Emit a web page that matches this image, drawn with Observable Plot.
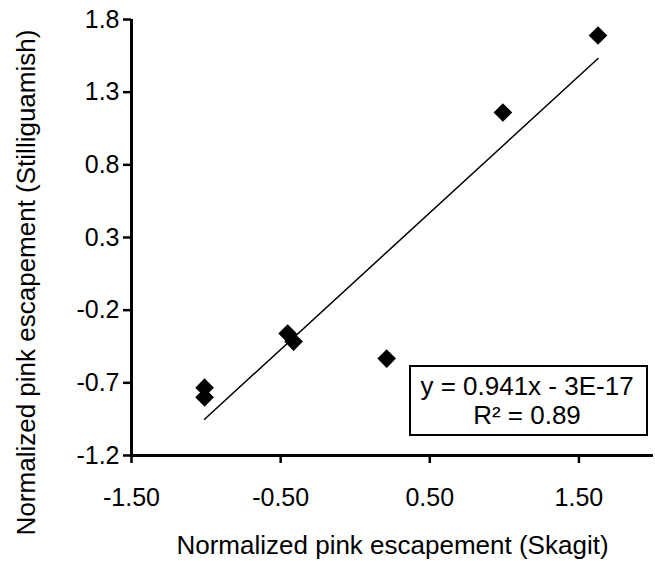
<!DOCTYPE html>
<html><head><meta charset="utf-8">
<script src="https://cdn.jsdelivr.net/npm/d3@7"></script>
<script src="https://cdn.jsdelivr.net/npm/@observablehq/plot@0.6"></script>
<style>body{margin:0;background:#fff} svg{font-family:"Liberation Sans",Arial,sans-serif}</style>
</head><body><div id="chart"></div>
<script>
const skagit = [1.628, 0.990, -1.01, -1.01, -0.453, -0.413, 0.211];
const stilliguamish = [1.69, 1.16, -0.733, -0.80, -0.361, -0.416, -0.533];
const xTicks = [-1.5, -0.5, 0.5, 1.5];
const yTicks = [-1.2, -0.7, -0.2, 0.3, 0.8, 1.3, 1.8];
const trendSlope = 0.941, trendIntercept = -3e-17;
const equationLines = ["y = 0.941x - 3E-17", "R² = 0.89"];
const xTitle = "Normalized pink escapement (Skagit)";
const yTitle = "Normalized pink escapement (Stilliguamish)";

const points = skagit.map((x, i) => ({x, y: stilliguamish[i]}));
const [xmin, xmax] = d3.extent(skagit);
const trend = [xmin, xmax].map(x => ({x, y: trendSlope * x + trendIntercept}));

const plot = Plot.plot({
  width: 655, height: 561,
  marginLeft: 131, marginRight: 2, marginTop: 19, marginBottom: 106,
  style: {fontFamily: '"Liberation Sans", Arial, sans-serif', fontSize: "25px", color: "black", background: "white"},
  x: {domain: [-1.5, 2.0]},
  y: {domain: [-1.2, 1.8]},
  marks: [
    Plot.axisX({ticks: xTicks, tickFormat: d => d.toFixed(2), tickSize: 8, tickPadding: 25, strokeWidth: 2.5, fontSize: 25, label: null, fill: "black"}),
    Plot.axisY({ticks: yTicks, tickFormat: d => d.toFixed(1), tickSize: 8, tickPadding: 4, strokeWidth: 2.5, fontSize: 25, label: null, fill: "black"}),
    Plot.ruleX([-1.5], {stroke: "black", strokeWidth: 3}),
    Plot.ruleY([-1.2], {stroke: "black", strokeWidth: 3}),
    Plot.line(trend, {x: "x", y: "y", stroke: "black", strokeWidth: 1.5}),
    Plot.dot(points, {x: "x", y: "y", symbol: "diamond2", r: 8.4, fill: "black", stroke: "none"}),
    Plot.text([xTitle], {text: d => d, frameAnchor: "bottom", lineAnchor: "middle", dy: 90, fontSize: 26, fill: "black"}),
    Plot.text([yTitle], {text: d => d, frameAnchor: "left", textAnchor: "middle", lineAnchor: "middle", rotate: -90, dx: -105, dy: 45, fontSize: 26, fill: "black"})
  ]
});

const svg = d3.select(plot);
const g = svg.append("g");
g.append("rect").attr("x", 410).attr("y", 366).attr("width", 237).attr("height", 69)
  .attr("fill", "white").attr("stroke", "black").attr("stroke-width", 2);
g.selectAll("text.eq").data(equationLines).join("text")
  .attr("x", 527).attr("y", (d, i) => 395 + i * 29)
  .attr("text-anchor", "middle").attr("font-size", 26).attr("fill", "black")
  .text(d => d);

document.getElementById("chart").appendChild(plot);
</script>
</body></html>
